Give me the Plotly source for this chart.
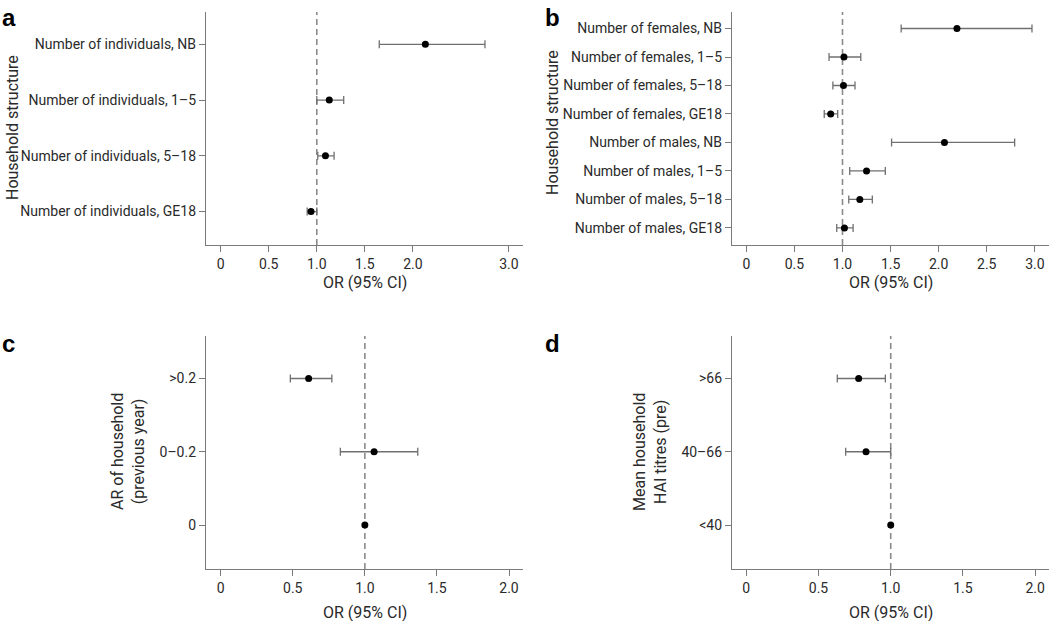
import plotly.graph_objects as go

W, H = 1050, 621

# ---------------- data ----------------
a_labels = ["Number of individuals, NB", "Number of individuals, 1–5",
            "Number of individuals, 5–18", "Number of individuals, GE18"]
a_or = [2.13, 1.13, 1.09, 0.94]
a_lo = [1.65, 1.00, 1.01, 0.90]
a_hi = [2.75, 1.28, 1.18, 1.00]

b_labels = ["Number of females, NB", "Number of females, 1–5",
            "Number of females, 5–18", "Number of females, GE18",
            "Number of males, NB", "Number of males, 1–5",
            "Number of males, 5–18", "Number of males, GE18"]
b_or = [2.19, 1.015, 1.01, 0.877, 2.06, 1.25, 1.18, 1.02]
b_lo = [1.61, 0.86, 0.90, 0.81, 1.51, 1.075, 1.065, 0.94]
b_hi = [2.97, 1.19, 1.13, 0.95, 2.79, 1.445, 1.31, 1.11]

c_labels = [">0.2", "0–0.2", "0"]
c_or = [0.61, 1.064, 1.0]
c_lo = [0.483, 0.83, 1.0]
c_hi = [0.771, 1.367, 1.0]

d_labels = [">66", "40–66", "<40"]
d_or = [0.778, 0.829, 1.0]
d_lo = [0.63, 0.688, 1.0]
d_hi = [0.963, 1.0, 1.0]

ab_ticks = [0, 0.5, 1.0, 1.5, 2.0, 3.0]
ab_ticktext = ["0", "0.5", "1.0", "1.5", "2.0", "3.0"]
b_ticks = [0, 0.5, 1.0, 1.5, 2.0, 2.5, 3.0]
b_ticktext = ["0", "0.5", "1.0", "1.5", "2.0", "2.5", "3.0"]
cd_ticks = [0, 0.5, 1.0, 1.5, 2.0]
cd_ticktext = ["0", "0.5", "1.0", "1.5", "2.0"]

FONT = "Roboto"
TXT = "#2a2a2a"
AXC = "#7a7a7a"
ERRC = "#707070"

def px(x):
    return x / W

def py(y):
    return 1 - y / H

panels = [
    ("a", a_labels, a_or, a_lo, a_hi, (206, 523), (12, 245), (-0.153, 3.146), ab_ticks, ab_ticktext),
    ("b", b_labels, b_or, b_lo, b_hi, (732, 1049), (12, 245), (-0.149, 3.147), b_ticks, b_ticktext),
    ("c", c_labels, c_or, c_lo, c_hi, (206, 523), (336, 569), (-0.102, 2.097), cd_ticks, cd_ticktext),
    ("d", d_labels, d_or, d_lo, d_hi, (732, 1049), (336, 569), (-0.099, 2.096), cd_ticks, cd_ticktext),
]

fig = go.Figure()
layout = {}
shapes = []

for i, (name, labels, orv, lo, hi, xd, yd, xr, tv, tt) in enumerate(panels):
    idx = "" if i == 0 else str(i + 1)
    xa, ya = "x" + idx, "y" + idx
    n = len(labels)
    sel = [k for k in range(n) if hi[k] > lo[k]]
    fig.add_trace(go.Scatter(
        x=[orv[k] for k in sel], y=[labels[k] for k in sel],
        mode="markers", marker=dict(size=7, color="rgba(0,0,0,0)"),
        error_x=dict(type="data", symmetric=False,
                     array=[hi[k] - orv[k] for k in sel],
                     arrayminus=[orv[k] - lo[k] for k in sel],
                     color=ERRC, thickness=1.3, width=4),
        xaxis=xa, yaxis=ya, showlegend=False, hoverinfo="skip"))
    fig.add_trace(go.Scatter(
        x=orv, y=labels, mode="markers",
        marker=dict(size=7, color="black"),
        xaxis=xa, yaxis=ya, showlegend=False))
    layout["xaxis" + idx] = dict(
        domain=[px(xd[0]), px(xd[1])], anchor=ya, range=list(xr),
        tickmode="array", tickvals=tv, ticktext=tt,
        showline=True, linecolor=AXC, linewidth=1.3,
        ticks="outside", ticklen=6, tickcolor=AXC, tickwidth=1.2,
        showgrid=False, zeroline=False,
        tickfont=dict(family=FONT, size=14, color=TXT))
    layout["yaxis" + idx] = dict(
        domain=[py(yd[1]), py(yd[0])], anchor=xa,
        type="category", categoryorder="array",
        categoryarray=list(reversed(labels)),
        range=[-0.6, n - 1 + 0.58],
        showline=True, linecolor=AXC, linewidth=1.3,
        ticks="outside", ticklen=6, tickcolor=AXC, tickwidth=1.2,
        showgrid=False, zeroline=False,
        tickfont=dict(family=FONT, size=14, color=TXT))
    shapes.append(dict(type="line", xref=xa, yref=ya + " domain",
                       x0=1, x1=1, y0=0, y1=1,
                       line=dict(color="#8a8a8a", width=1.6, dash="6px,4px"),
                       layer="below"))

annotations = []
for letter, x, y in [("a", 0, 17), ("b", 543, 17), ("c", 0, 343), ("d", 543, 343)]:
    annotations.append(dict(text=f"<b>{letter}</b>", x=px(x), y=py(y), xref="paper", yref="paper",
                            xanchor="left", yanchor="middle", showarrow=False,
                            font=dict(family="Liberation Sans", size=24, color="black")))
for cx, cy in [(364.5, 282), (890.5, 282), (364.5, 612), (890.5, 612)]:
    annotations.append(dict(text="OR (95% CI)", x=px(cx), y=py(cy), xref="paper", yref="paper",
                            xanchor="center", yanchor="middle", showarrow=False,
                            font=dict(family=FONT, size=16, color=TXT)))
for text, cx, cy in [("Household structure", 12, 128), ("Household structure", 552, 123),
                     ("AR of household<br>(previous year)", 128, 452),
                     ("Mean household<br>HAI titres (pre)", 650, 452)]:
    annotations.append(dict(text=text, x=px(cx), y=py(cy), xref="paper", yref="paper",
                            xanchor="center", yanchor="middle", showarrow=False, textangle=-90,
                            font=dict(family=FONT, size=16, color=TXT)))

fig.update_layout(**layout)
fig.update_layout(
    width=W, height=H, margin=dict(l=0, r=0, t=0, b=0),
    paper_bgcolor="white", plot_bgcolor="white",
    shapes=shapes, annotations=annotations,
    font=dict(family=FONT, color=TXT))

fig.write_html("out.html", config={"displayModeBar": False},
               post_script="document.body.style.margin='0';document.body.style.overflow='hidden';")
